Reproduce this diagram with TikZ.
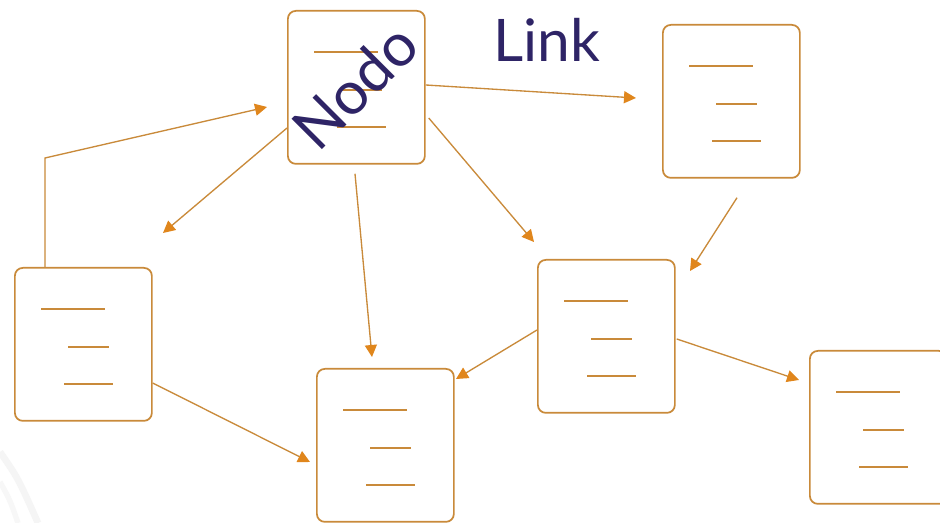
\documentclass[tikz,border=0pt]{standalone}
\usepackage{fontspec}
\setmainfont{Lato}
\usetikzlibrary{arrows.meta,calc}
\definecolor{edge}{HTML}{C98A3A}
\definecolor{tipfill}{HTML}{E0861C}
\definecolor{ink}{HTML}{2E2466}
\tikzset{
  docbox/.style={draw=edge, line width=1.3pt, rounded corners=6pt, fill=white,
    minimum width=102.75pt, minimum height=114.75pt, anchor=north west, inner sep=0pt},
  textline/.style={draw=edge, line width=1.4pt},
  link/.style={draw=edge, line width=1pt,
    -{Triangle[length=9pt,width=9pt,fill=tipfill,color=tipfill]}},
  label/.style={text=ink, inner sep=0pt}
}
% three ruled lines inside a page box
\newcommand\doclines[1]{%
  \draw[textline] ($(#1.north west)+(27,42)$) -- ++(64,0);
  \draw[textline] ($(#1.north west)+(54,80)$) -- ++(41,0);
  \draw[textline] ($(#1.north west)+(50,117)$) -- ++(49,0);}
\begin{document}
\begin{tikzpicture}[x=0.75pt,y=-0.75pt]
  \useasboundingbox (0,0) rectangle (940,523);
  \clip (0,0) rectangle (940,523);
  \fill[white] (0,0) rectangle (940,523);

  % faint strokes in the lower left corner
  \draw[black!4, line width=5pt] (0,452) .. controls (18,478) .. (38,523);
  \draw[black!3, line width=4pt] (0,482) .. controls (10,500) .. (18,523);

  % page boxes
  \node[docbox] (nodo)     at (287,10)  {};
  \node[docbox] (topright) at (662,24)  {};
  \node[docbox] (left)     at (14,267)  {};
  \node[docbox] (botmid)   at (316,368) {};
  \node[docbox] (midright) at (537,259) {};
  \node[docbox] (farright) at (809,350) {};
  \foreach \b in {nodo,topright,left,botmid,midright,farright}{\doclines{\b}}

  % arrow tips
  \coordinate (t1) at (267,107);
  \coordinate (t2) at (163,233);
  \coordinate (t3) at (372,357);
  \coordinate (t4) at (636,98);
  \coordinate (t5) at (534,242);
  \coordinate (t6) at (690,271);
  \coordinate (t7) at (456,379);
  \coordinate (t8) at (799,380);
  \coordinate (t9) at (310,462);

  % connectors
  \draw[link] ($(left.north west)+(31,0)$) -- ++(0,-109) -- (t1);
  \draw[link] ($(nodo.north west)+(0,118)$) -- (t2);
  \draw[link] ($(nodo.south west)+(68,9)$) -- (t3);
  \draw[link] ($(nodo.north east)+(0,75)$) -- (t4);
  \draw[link] ($(nodo.north east)+(3,108)$) -- (t5);
  \draw[link] ($(topright.south west)+(75,19)$) -- (t6);
  \draw[link] ($(midright.north west)+(0,71)$) -- (t7);
  \draw[link] ($(midright.north east)+(1,80)$) -- (t8);
  \draw[link] ($(left.north east)+(0,116)$) -- (t9);

  % labels
  \node[label, rotate=45, font=\fontsize{45}{45}\selectfont] (nodolabel) at (355,86) {Nodo};
  \node[label, anchor=base west, font=\fontsize{44}{44}\selectfont] (linklabel) at (493,62) {Link};
\end{tikzpicture}
\end{document}
